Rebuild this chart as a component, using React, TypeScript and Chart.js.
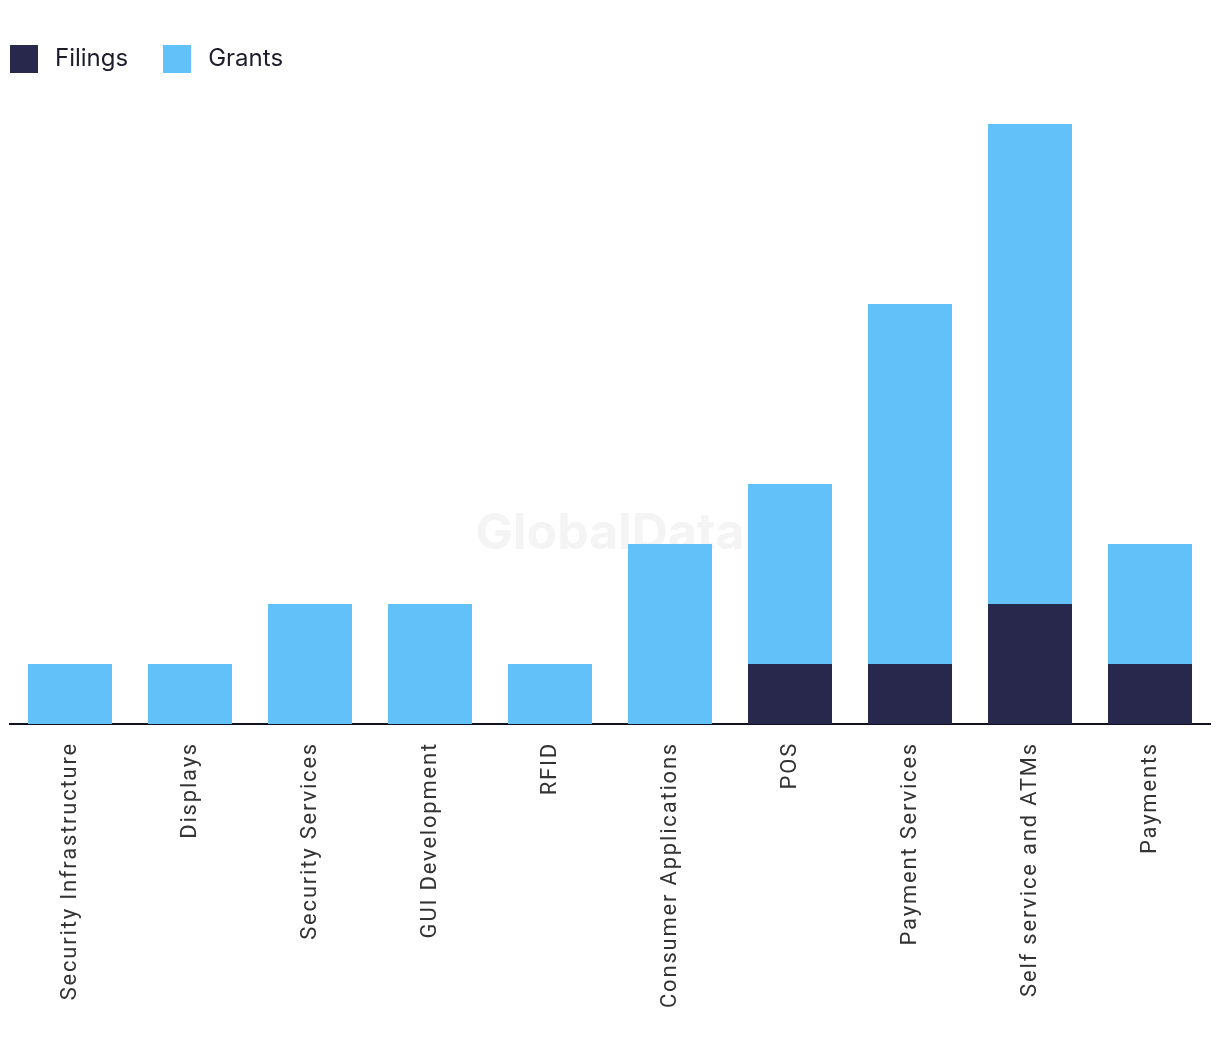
import React, { useEffect, useRef } from "react";
import { Chart, registerables } from "chart.js";

Chart.register(...registerables);

const categories = [
  "Security Infrastructure",
  "Displays",
  "Security Services",
  "GUI Development",
  "RFID",
  "Consumer Applications",
  "POS",
  "Payment Services",
  "Self service and ATMs",
  "Payments",
];
const filings = [0, 0, 0, 0, 0, 0, 1, 1, 2, 1];
const grants = [1, 1, 2, 2, 1, 3, 3, 6, 8, 2];
const seriesColors = ["#27284b", "#62c1f8"];

const LEGEND_PAD = 30;
const LABEL_SPACING = "1.8px";

function swatch(color: string) {
  const c = document.createElement("canvas");
  c.width = 28;
  c.height = 28;
  const g = c.getContext("2d")!;
  g.fillStyle = color;
  g.fillRect(0, 0, 28, 28);
  return c;
}

const watermark = {
  id: "watermark",
  beforeDatasetsDraw(chart: any) {
    const { ctx, chartArea } = chart;
    ctx.save();
    ctx.font = "bold 50px Inter, 'Noto Sans', sans-serif";
    ctx.fillStyle = "#f4f4f4";
    ctx.textAlign = "center";
    ctx.textBaseline = "alphabetic";
    ctx.fillText("GlobalData", (chartArea.left + chartArea.right) / 2, 541);
    ctx.restore();
  },
};

const layoutTweak = {
  id: "layoutTweak",
  beforeLayout(chart: any) {
    const lg = chart.legend;
    if (lg && !lg._tweaked) {
      const fit = lg.fit.bind(lg);
      lg.fit = function () {
        fit();
        this.height += 43;
      };
      lg._tweaked = true;
    }
    const sc = chart.scales.x;
    if (sc && !sc._spaced) {
      const wrap = (name: string) => {
        const orig = sc[name].bind(sc);
        sc[name] = function (...args: any[]) {
          const ctx = chart.ctx;
          const prev = ctx.letterSpacing;
          ctx.letterSpacing = LABEL_SPACING;
          try {
            return orig(...args);
          } finally {
            ctx.letterSpacing = prev || "0px";
          }
        };
      };
      wrap("update");
      wrap("draw");
      sc._spaced = true;
    }
  },
  afterLayout(chart: any) {
    const lg = chart.legend;
    if (lg) {
      lg.left -= LEGEND_PAD + 5;
    }
  },
};

export default function App() {
  const ref = useRef<HTMLCanvasElement>(null);
  useEffect(() => {
    if (!ref.current) return;
    const swatches = seriesColors.map(swatch);
    const chart = new Chart(ref.current, {
      type: "bar",
      data: {
        labels: categories,
        datasets: [
          { label: "Filings", data: filings, backgroundColor: seriesColors[0] },
          { label: "Grants", data: grants, backgroundColor: seriesColors[1] },
        ],
      },
      options: {
        animation: false,
        responsive: false,
        maintainAspectRatio: false,
        layout: { padding: { left: 2, right: 2, top: 9, bottom: 26 } },
        datasets: { bar: { categoryPercentage: 1, barPercentage: 0.7 } },
        plugins: {
          legend: {
            position: "top",
            align: "start",
            labels: {
              usePointStyle: true,
              pointStyleWidth: 38,
              boxHeight: 24,
              padding: LEGEND_PAD,
              color: "#1c1c2c",
              font: { size: 24, family: "Inter, 'Noto Sans', sans-serif" },
              generateLabels(ch: any) {
                const items = (Chart as any).defaults.plugins.legend.labels.generateLabels(ch);
                items.forEach((it: any, i: number) => {
                  it.pointStyle = swatches[i];
                });
                return items;
              },
            },
          },
          tooltip: { enabled: false },
        },
        scales: {
          x: {
            stacked: true,
            grid: { display: false, drawTicks: false },
            border: { display: true, color: "#111122", width: 2 },
            ticks: {
              maxRotation: 90,
              minRotation: 90,
              padding: 18,
              color: "#333333",
              font: { size: 22, family: "Roboto, 'Liberation Sans', sans-serif" },
            },
          },
          y: {
            stacked: true,
            display: false,
            min: 0,
            max: 10,
          },
        },
      },
      plugins: [watermark, layoutTweak],
    });
    return () => chart.destroy();
  }, []);
  return (
    <div style={{ width: 1204, height: 1044 }}>
      <canvas ref={ref} width={1204} height={1044} />
    </div>
  );
}
